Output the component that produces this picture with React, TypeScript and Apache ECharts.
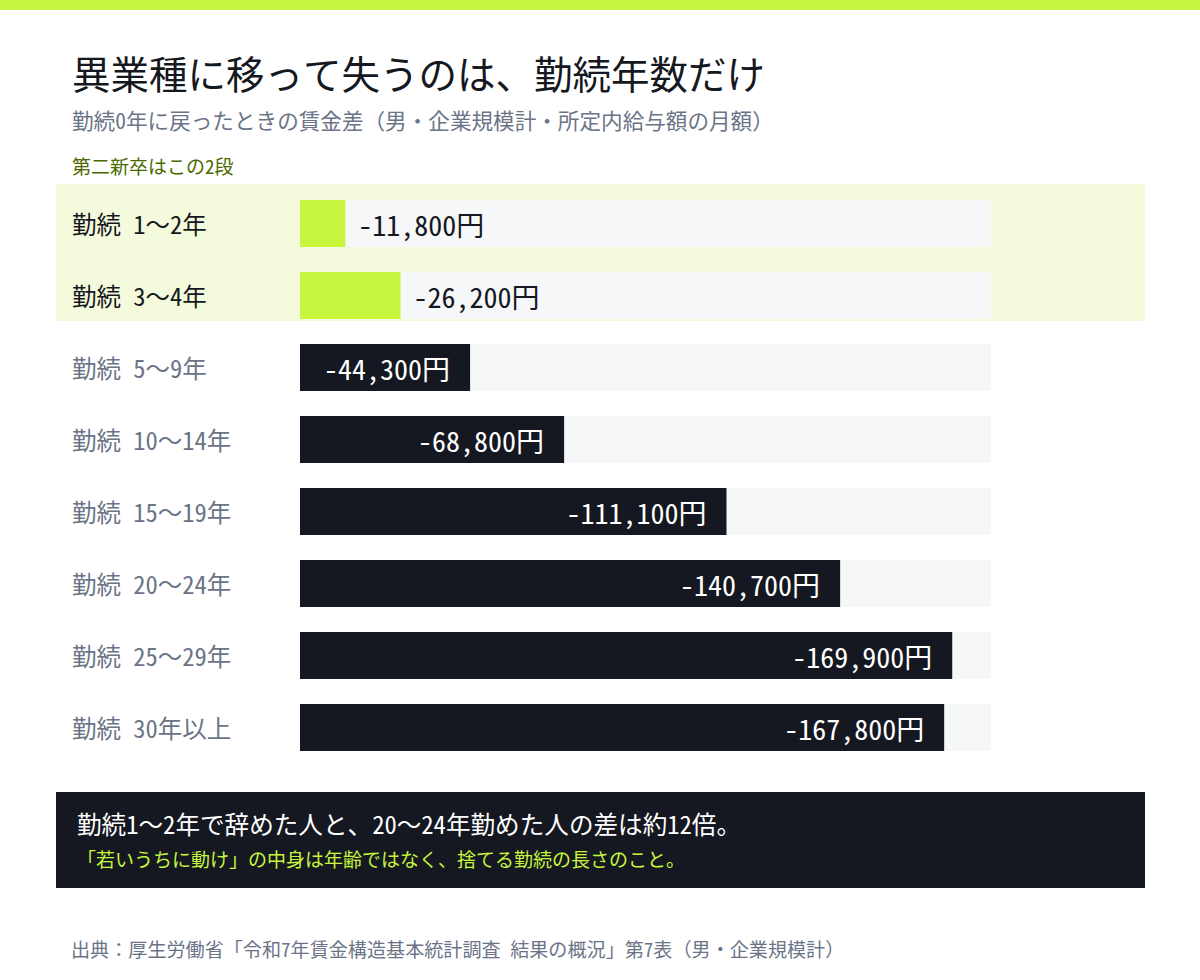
import React, { useEffect, useRef } from "react";
import * as echarts from "echarts";

const categories = [
  "勤続 1〜2年",
  "勤続 3〜4年",
  "勤続 5〜9年",
  "勤続 10〜14年",
  "勤続 15〜19年",
  "勤続 20〜24年",
  "勤続 25〜29年",
  "勤続 30年以上",
];
const wageGap = [-11800, -26200, -44300, -68800, -111100, -140700, -169900, -167800];
const highlighted = [true, true, false, false, false, false, false, false];
const axisMin = -180000;

const FONT = "'Noto Sans Mono CJK JP', 'Noto Sans CJK JP', monospace";
const LIME = "#c8f53e";
const DARK = "#151820";
const GRAY = "#6b7487";

export default function App() {
  const ref = useRef<HTMLDivElement>(null);
  useEffect(() => {
    document.body.style.margin = "0";
    const chart = echarts.init(ref.current!, null, { renderer: "svg" });
    const data = wageGap.map((v, i) => ({
      value: v,
      itemStyle: { color: highlighted[i] ? LIME : DARK },
      label: highlighted[i]
        ? { position: "right", distance: 13, color: DARK }
        : { position: "insideRight", distance: 20, color: "#ffffff" },
    }));
    const txt = (text: string, x: number, y: number, fontSize: number, fill: string) => ({
      type: "text",
      x,
      y,
      style: { text, fontSize, fill, fontFamily: FONT, textVerticalAlign: "middle" },
    });
    chart.setOption({
      animation: false,
      backgroundColor: "#ffffff",
      textStyle: { fontFamily: FONT },
      grid: { left: 300, right: 209, top: 187.5, height: 576, containLabel: false },
      xAxis: {
        type: "value",
        min: axisMin,
        max: 0,
        inverse: true,
        show: false,
      },
      yAxis: {
        type: "category",
        data: categories,
        inverse: true,
        axisLine: { show: false },
        axisTick: { show: false },
        axisLabel: {
          margin: 228,
          align: "left",
          formatter: (v: string, i: number) =>
            highlighted[i] ? `{h|${v}}` : `{n|${v}}`,
          rich: {
            h: { fontSize: 24.5, color: DARK, fontFamily: FONT },
            n: { fontSize: 24.5, color: GRAY, fontFamily: FONT },
          },
        },
      },
      series: [
        {
          type: "bar",
          data,
          barWidth: 47,
          showBackground: true,
          backgroundStyle: { color: "#f5f7f9" },
          label: {
            show: true,
            fontSize: 28,
            fontFamily: FONT,
            formatter: (p: any) => `${Number(p.value).toLocaleString("en-US")}円`,
          },
          z: 3,
        },
      ],
      graphic: [
        { type: "rect", shape: { x: 0, y: 0, width: 1200, height: 10 }, style: { fill: LIME } },
        {
          type: "rect",
          z: -10,
          shape: { x: 56, y: 184, width: 1089, height: 137 },
          style: { fill: "#f4fadc" },
        },
        txt("異業種に移って失うのは、勤続年数だけ", 72, 72, 38.5, DARK),
        txt("勤続0年に戻ったときの賃金差（男・企業規模計・所定内給与額の月額）", 72, 119, 21.6, GRAY),
        txt("第二新卒はこの2段", 72, 165, 19, "#4a6a00"),
        {
          type: "rect",
          shape: { x: 56, y: 792, width: 1089, height: 96 },
          style: { fill: DARK },
        },
        txt("勤続1〜2年で辞めた人と、20〜24年勤めた人の差は約12倍。", 77, 823, 24.6, "#ffffff"),
        txt("「若いうちに動け」の中身は年齢ではなく、捨てる勤続の長さのこと。", 77, 858, 19, LIME),
        txt("出典：厚生労働省「令和7年賃金構造基本統計調査 結果の概況」第7表（男・企業規模計）", 71, 949, 19.1, GRAY),
      ],
    });
    return () => chart.dispose();
  }, []);
  return (
    <div
      ref={ref}
      style={{ position: "absolute", left: 0, top: 0, width: 1200, height: 980 }}
    />
  );
}
